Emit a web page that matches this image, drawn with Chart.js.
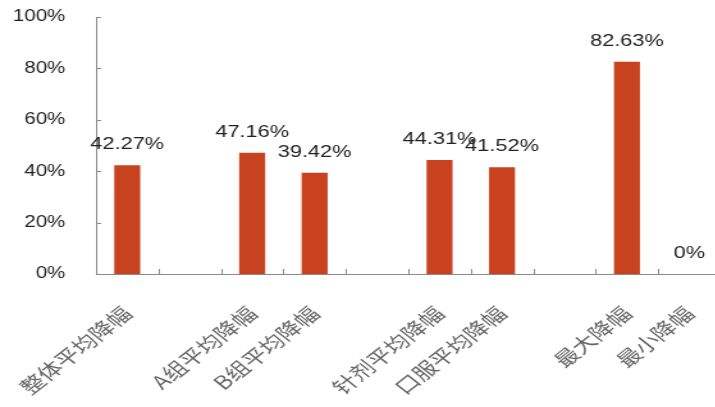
<!DOCTYPE html>
<html>
<head>
<meta charset="utf-8">
<script src="https://cdn.jsdelivr.net/npm/chart.js@4/dist/chart.umd.min.js"></script>
<style>
  html, body { margin: 0; padding: 0; background: #fff; overflow: hidden; }
  #wrap { width: 565px; height: 407px; transform: scaleX(1.28); transform-origin: 0 0; }
</style>
</head>
<body>
<div id="wrap"><canvas id="c" width="565" height="407"></canvas></div>
<script>
// Price-cut categories; blank slots separate the groups
const categories = ['整体平均降幅', '', 'A组平均降幅', 'B组平均降幅', '', '针剂平均降幅', '口服平均降幅', '', '最大降幅', '最小降幅'];
// Reduction in percent (null = spacer slot)
const reductions = [42.27, null, 47.16, 39.42, null, 44.31, 41.52, null, 82.63, 0];
const yTicks = [0, 20, 40, 60, 80, 100];

const axisColor = '#8a8a8a';
const barColor = '#C9421F';

function fmt(v) { return v === 0 ? '0%' : v.toFixed(2) + '%'; }

// Value labels above each bar
const valueLabels = {
  id: 'valueLabels',
  afterDatasetsDraw(chart) {
    const ctx = chart.ctx;
    const meta = chart.getDatasetMeta(0);
    ctx.save();
    ctx.font = '17px "Liberation Sans", Arial, sans-serif';
    ctx.fillStyle = '#222';
    ctx.textAlign = 'center';
    ctx.textBaseline = 'alphabetic';
    meta.data.forEach((bar, i) => {
      const v = reductions[i];
      if (v === null) return;
      ctx.fillText(fmt(v), bar.x, bar.y - 16);
    });
    ctx.restore();
  }
};

// Short tick marks pointing into the plot area
const innerTicks = {
  id: 'innerTicks',
  afterDraw(chart) {
    const ctx = chart.ctx;
    const x = chart.scales.x, y = chart.scales.y;
    const area = chart.chartArea;
    ctx.save();
    ctx.strokeStyle = axisColor;
    ctx.lineWidth = 1;
    ctx.beginPath();
    for (let i = 1; i <= categories.length; i++) {
      const px = Math.round(x.getPixelForValue(i - 0.5)) + 0.5;
      ctx.moveTo(px, area.bottom);
      ctx.lineTo(px, area.bottom - 5);
    }
    yTicks.forEach(t => {
      if (t === 0) return;
      const py = Math.round(y.getPixelForValue(t)) + 0.5;
      ctx.moveTo(area.left, py);
      ctx.lineTo(area.left + 4, py);
    });
    ctx.stroke();
    ctx.restore();
  }
};

new Chart(document.getElementById('c'), {
  type: 'bar',
  data: {
    labels: categories,
    datasets: [{
      data: reductions,
      backgroundColor: barColor,
      borderWidth: 0,
      barPercentage: 0.416,
      categoryPercentage: 1
    }]
  },
  options: {
    responsive: false,
    animation: false,
    devicePixelRatio: 1,
    layout: { padding: { left: 0, right: 2, top: 17, bottom: 0 } },
    plugins: { legend: { display: false }, tooltip: { enabled: false } },
    scales: {
      x: {
        grid: { display: false, drawTicks: false, tickLength: 0 },
        border: { display: true, color: axisColor, width: 1 },
        ticks: {
          autoSkip: false,
          minRotation: 45,
          maxRotation: 45,
          padding: 28,
          color: '#666',
          font: { family: '"Noto Sans CJK SC", sans-serif', size: 19 }
        },
        afterFit(scale) {
          scale.height = 133;
          scale.paddingLeft = 0;
          scale.paddingRight = 0;
        }
      },
      y: {
        min: 0,
        max: 100,
        afterBuildTicks(scale) { scale.ticks = yTicks.map(v => ({ value: v })); },
        grid: { display: false, drawTicks: false, tickLength: 0 },
        border: { display: true, color: axisColor, width: 1 },
        ticks: {
          padding: 24,
          color: '#222',
          font: { family: '"Liberation Sans", Arial, sans-serif', size: 16 },
          callback: v => v + '%'
        },
        afterFit(scale) {
          scale.width = 75;
          scale.paddingTop = 0;
          scale.paddingBottom = 0;
        }
      }
    }
  },
  plugins: [valueLabels, innerTicks]
});
</script>
</body>
</html>
